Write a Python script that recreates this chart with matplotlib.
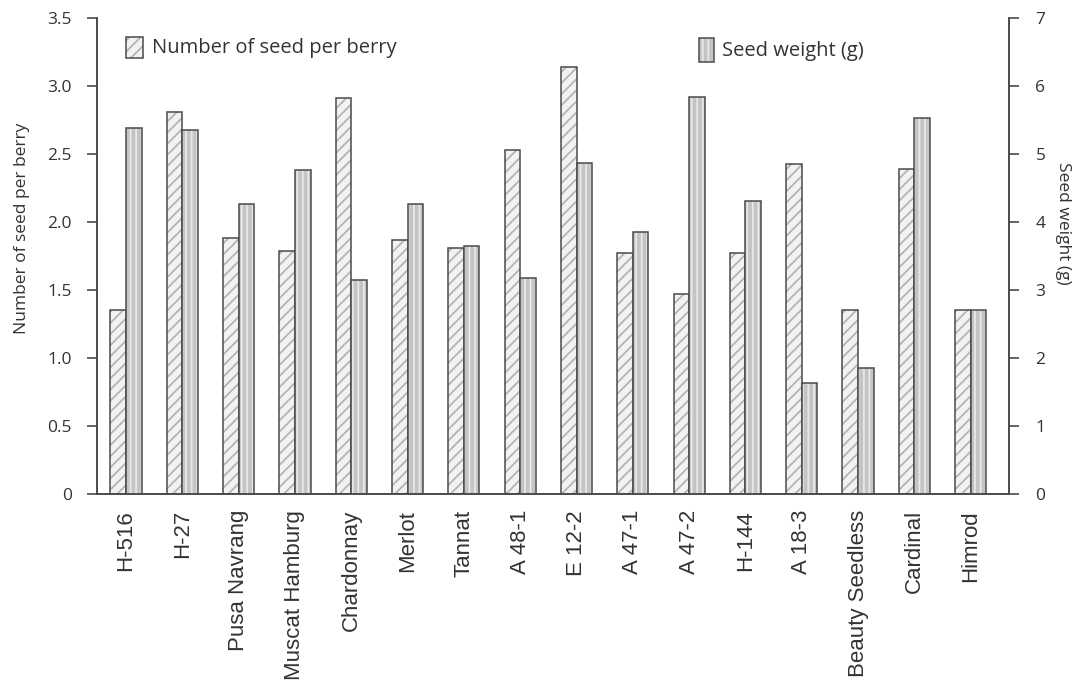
import matplotlib
matplotlib.use("Agg")
import matplotlib.pyplot as plt
import numpy as np
from matplotlib.patches import Rectangle

categories = ["H-516", "H-27", "Pusa Navrang", "Muscat Hamburg", "Chardonnay",
              "Merlot", "Tannat", "A 48-1", "E 12-2", "A 47-1", "A 47-2",
              "H-144", "A 18-3", "Beauty Seedless", "Cardinal", "Himrod"]
seeds_per_berry = [1.35, 2.81, 1.88, 1.79, 2.91, 1.87, 1.81, 2.53, 3.14, 1.77,
                   1.47, 1.77, 2.43, 1.35, 2.39, 1.35]
seed_weight = [5.38, 5.36, 4.26, 4.77, 3.15, 4.26, 3.65, 3.17, 4.87, 3.86,
               5.84, 4.31, 1.63, 1.85, 5.53, 2.70]
left_ticks = [0, 0.5, 1.0, 1.5, 2.0, 2.5, 3.0, 3.5]
left_ticklabels = ["0", "0.5", "1.0", "1.5", "2.0", "2.5", "3.0", "3.5"]
right_ticks = [0, 1, 2, 3, 4, 5, 6, 7]

plt.rcParams['hatch.linewidth'] = 1.3
txt = "#333333"
edge = "#4a4a4a"
diag_fc, diag_hc = "#f2f2f2", "#b4b4b4"
vert_fc, vert_hc = "#c4c4c4", "#e8e8e8"
diag_hatch, vert_hatch = "///", "|||"

fig = plt.figure(figsize=(10.76, 6.82), dpi=100)
ax = fig.add_axes([97/1076, 1-494/682, 912/1076, 476/682])
ax2 = ax.twinx()

x = np.arange(len(categories))
w = 0.277

# hatched bars (left axis)
ax.bar(x - w/2, seeds_per_berry, w, color=diag_fc, edgecolor=diag_hc,
       hatch=diag_hatch, linewidth=0, zorder=2)
ax.bar(x - w/2, seeds_per_berry, w, fill=False, edgecolor=edge, linewidth=1.1, zorder=3)
# vertical striped bars (right axis)
ax2.bar(x + w/2, seed_weight, w, color=vert_fc, edgecolor=vert_hc,
        hatch=vert_hatch, linewidth=0, zorder=2)
ax2.bar(x + w/2, seed_weight, w, fill=False, edgecolor=edge, linewidth=1.1, zorder=3)

ax.set_xlim(-0.515, 15.68)
ax.set_ylim(0, 3.5)
ax2.set_ylim(0, 7)

ax.set_xticks(x)
ax.set_xticklabels(categories, rotation=90, fontsize=16, family="Liberation Sans", color=txt)
ax.tick_params(axis='x', length=0, pad=11.5)

ax.set_yticks(left_ticks)
ax.set_yticklabels(left_ticklabels, fontsize=12.5, family="Open Sans", color=txt)
ax.tick_params(axis='y', direction='out', length=7, width=1.2, color=edge, pad=11)
ax2.set_yticks(right_ticks)
ax2.set_yticklabels([str(t) for t in right_ticks], fontsize=12.5, family="Open Sans", color=txt)
ax2.tick_params(axis='y', direction='out', length=7, width=1.2, color=edge, pad=12)

for a in (ax, ax2):
    a.spines['top'].set_visible(False)
    for s in ('left', 'right', 'bottom'):
        a.spines[s].set_color(edge)
        a.spines[s].set_linewidth(1.2)

ax.set_ylabel("Number of seed per berry", fontsize=12.5, family="Open Sans", color=txt)
ax.yaxis.set_label_coords(-0.073, 0.559)
ax2.set_ylabel("Seed weight (g)", fontsize=12.5, family="Open Sans", color=txt, rotation=-90)
ax2.yaxis.set_label_coords(1.068, 0.569)

# legend entries
def legend_entry(x0, y0, wd, ht, tx, ty, label, hatch, fc, hc):
    r = Rectangle((x0, y0), wd, ht, transform=ax.transAxes, facecolor=fc,
                  edgecolor=hc, hatch=hatch, linewidth=0, zorder=5, clip_on=False)
    ax.add_patch(r)
    r2 = Rectangle((x0, y0), wd, ht, transform=ax.transAxes, fill=False,
                   edgecolor=edge, linewidth=1.1, zorder=6, clip_on=False)
    ax.add_patch(r2)
    ax.text(tx, ty, label, transform=ax.transAxes, fontsize=14.5, family="Open Sans",
            color=txt, va='center', ha='left')

legend_entry(0.0318, 0.916, 0.0186, 0.044, 0.0603, 0.937,
             "Number of seed per berry", diag_hatch, diag_fc, diag_hc)
legend_entry(0.660, 0.9076, 0.0165, 0.050, 0.685, 0.931,
             "Seed weight (g)", vert_hatch, vert_fc, vert_hc)

fig.savefig("out.png", dpi=100)
